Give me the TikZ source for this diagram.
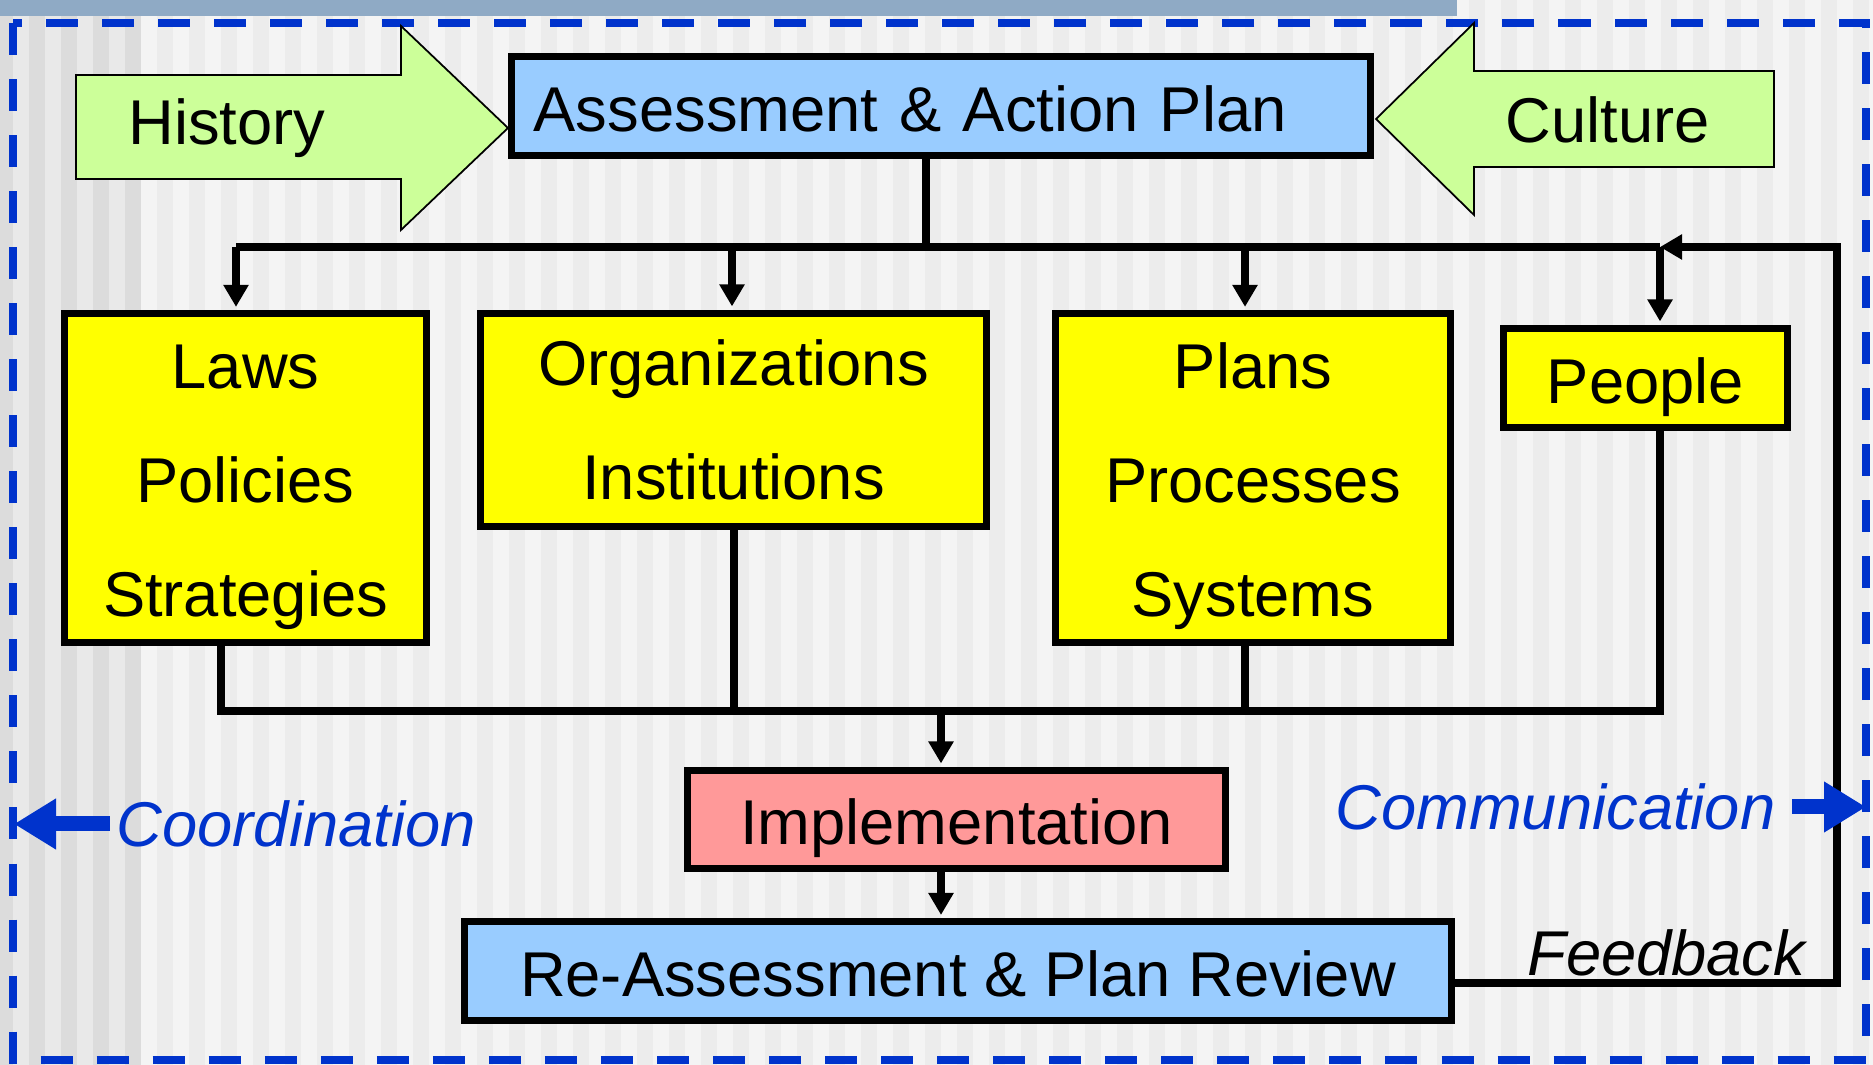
\documentclass[tikz,border=0pt]{standalone}
\usepackage{fontspec}
\setmainfont{Liberation Sans}
\usetikzlibrary{arrows.meta}
\definecolor{paleblue}{HTML}{99CCFF}
\definecolor{boxyellow}{HTML}{FFFF00}
\definecolor{implpink}{HTML}{FF9999}
\definecolor{arrowgreen}{HTML}{CCFF99}
\definecolor{linkblue}{HTML}{0033CC}
\definecolor{bandgray}{HTML}{8FAAC5}
\definecolor{stripedark}{HTML}{ECECEC}
\definecolor{stripelight}{HTML}{F4F4F4}
\definecolor{edgedark}{HTML}{DCDCDC}
\definecolor{edgelight}{HTML}{E9E9E9}
\tikzset{
  every node/.style={font=\fontsize{18}{32.4}\selectfont, inner sep=0pt},
  oneline/.style={text height=18pt, text depth=3.6pt},
  threeline/.style={text height=82.3pt, text depth=3.8pt},
  blockbox/.style={draw, line width=0.07cm, align=center},
  link/.style={line width=0.08cm},
  flow/.style={line width=0.08cm, -{Triangle[length=0.22cm,width=0.24cm]}},
  intobox/.style={flow, shorten >=0.035cm},
  bigarrow/.style={fill=arrowgreen, draw=black, line width=0.5pt},
  bluearrow/.style={linkblue, line width=0.15cm, -{Triangle[length=0.42cm,width=0.48cm]}},
  sidelabel/.style={text=linkblue, font=\fontsize{18}{21.6}\selectfont\itshape}
}
\begin{document}
\begin{tikzpicture}[x=0.01cm, y=-0.01cm]
\useasboundingbox (0,0) rectangle (1873,1065);
\fill[stripelight] (0,0) rectangle (1873,1065);
\foreach \x in {29,61,...,1861}
  \fill[stripedark] (\x,0) rectangle ++(16,1065);
\fill[edgelight] (0,0) rectangle (141,1065);
\fill[edgedark] (0,0) rectangle (13,1065);
\foreach \x in {29,61,93,125}
  \fill[edgedark] (\x,0) rectangle ++(16,1065);
\fill[bandgray] (0,0) rectangle (1457,16);
\draw[linkblue, line width=0.08cm, dash pattern=on 0.32cm off 0.24cm] (13,23) rectangle (1866,1060);

\draw[bigarrow] (76,75) -- (401,75) -- (401,26) -- (508,128) -- (401,230) -- (401,179) -- (76,179) -- cycle;
\node[oneline] (hist) at (227,119) {History};
\draw[bigarrow] (1774,71) -- (1474,71) -- (1474,23) -- (1376,119) -- (1474,215) -- (1474,167) -- (1774,167) -- cycle;
\node[oneline] (cult) at (1608,117) {Culture};

\node[blockbox, oneline, fill=paleblue, minimum width=8.59cm, minimum height=0.98cm, text width=8.14cm, align=left] (assess) at (941,106) {Assessment \& Action Plan};
\node[blockbox, threeline, fill=boxyellow, minimum width=3.62cm, minimum height=3.28cm] (laws) at (245.5,478) {Laws\\Policies\\Strategies};
\node[blockbox, fill=boxyellow, minimum width=5.06cm, minimum height=2.13cm] (orgs) at (733.5,420) {Organizations\\Institutions};
\node[blockbox, threeline, fill=boxyellow, minimum width=3.95cm, minimum height=3.28cm] (plans) at (1253,478) {Plans\\Processes\\Systems};
\node[blockbox, oneline, fill=boxyellow, minimum width=2.84cm, minimum height=0.99cm] (people) at (1645.5,378) {People};
\node[blockbox, oneline, fill=implpink, minimum width=5.38cm, minimum height=0.98cm] (impl) at (956.5,819.5) {Implementation};
\node[blockbox, oneline, fill=paleblue, minimum width=9.87cm, minimum height=0.98cm] (review) at (958,971) {Re-Assessment \& Plan Review};

\coordinate (tA) at (926,247);
\coordinate (tL) at (236,247);
\coordinate (tO) at (732,247);
\coordinate (tP) at (1245,247);
\coordinate (tR) at (1660,247);
\coordinate (bL) at (221,711);
\coordinate (bP) at (1245,711);
\coordinate (bI) at (941,711);
\coordinate (bR) at (1660,711);
\coordinate (fbB) at (1837,983);
\coordinate (fbT) at (1837,247);

\draw[link] (assess.south -| tA) -- (tA);
\draw[link] (tL) -- (tR);
\draw[intobox] (tL) -- (tL |- laws.north);
\draw[intobox] (tO) -- (tO |- orgs.north);
\draw[intobox] (tP) -- (tP |- plans.north);
\draw[intobox] (tR) -- (tR |- people.north);
\draw[link] (laws.south -| bL) -- (bL) -- (bR) -- (people.south -| bR);
\draw[link] (orgs.south) -- (orgs.south |- bL);
\draw[link] (plans.south -| bP) -- (bP);
\draw[intobox] (bI) -- (bI |- impl.north);
\draw[intobox] (impl.south -| bI) -- (bI |- review.north);
\draw[flow] (review.east |- fbB) -- (fbB) -- (fbT) -- (tR);
\node[anchor=base east, font=\fontsize{18}{21.6}\selectfont\itshape] (fbtext) at (1806,976) {Feedback};

\node[sidelabel, anchor=west] (coord) at (116,824) {Coordination};
\coordinate (leftedge) at (14,824);
\draw[bluearrow] ([xshift=-0.06cm]coord.west) -- (leftedge);
\node[sidelabel, anchor=east] (comm) at (1776,807) {Communication};
\coordinate (rightedge) at (1866,807);
\draw[bluearrow] ([xshift=0.16cm]comm.east) -- (rightedge);
\end{tikzpicture}
\end{document}
